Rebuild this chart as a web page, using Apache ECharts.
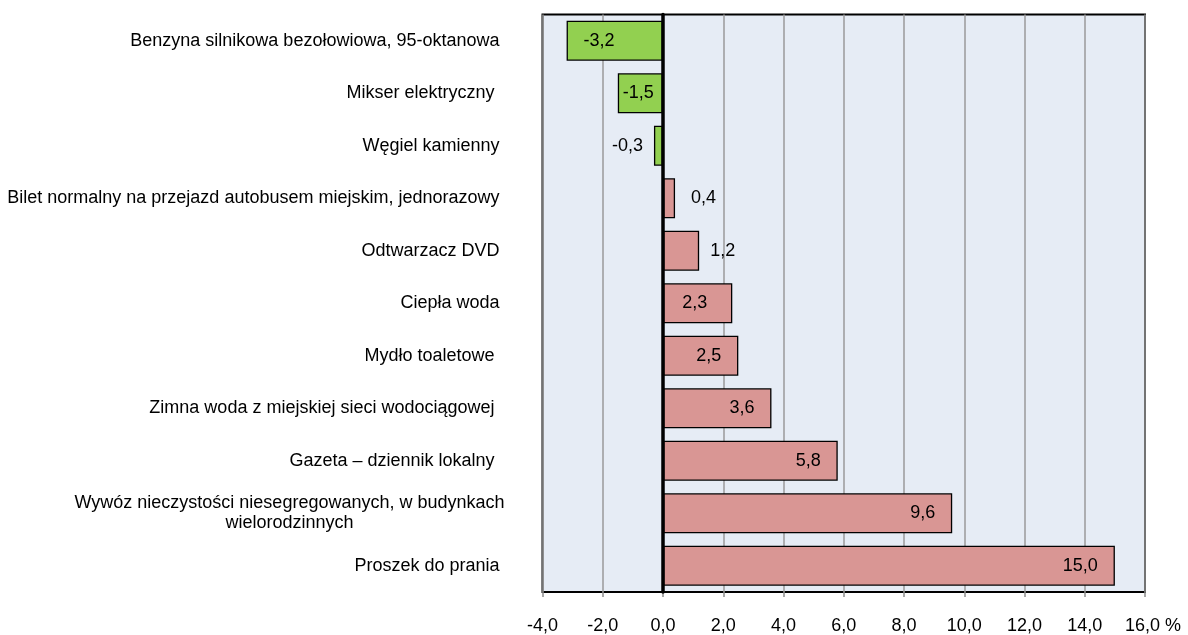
<!DOCTYPE html>
<html>
<head>
<meta charset="utf-8">
<script src="https://cdn.jsdelivr.net/npm/echarts@6/dist/echarts.min.js"></script>
<style>
html,body{margin:0;padding:0;background:#fff;}
#chart{width:1188px;height:635px;}
</style>
</head>
<body>
<div id="chart"></div>
<script>
const categories = [
  "Benzyna silnikowa bezołowiowa, 95-oktanowa",
  "Mikser elektryczny ",
  "Węgiel kamienny",
  "Bilet normalny na przejazd autobusem miejskim, jednorazowy",
  "Odtwarzacz DVD",
  "Ciepła woda",
  "Mydło toaletowe ",
  "Zimna woda z miejskiej sieci wodociągowej ",
  "Gazeta – dziennik lokalny ",
  "Wywóz nieczystości niesegregowanych, w budynkach\nwielorodzinnych",
  "Proszek do prania"
];
const values = [-3.2, -1.5, -0.3, 0.4, 1.2, 2.3, 2.5, 3.6, 5.8, 9.6, 15.0];
const xTickValues = [-4, -2, 0, 2, 4, 6, 8, 10, 12, 14, 16];
const unitLabel = "%";

const FONT = '"Liberation Sans", Arial, sans-serif';
const FS = 18;

// label placement per bar (style only)
const labelPlacement = [
  {position: 'insideLeft', distance: 17},
  {position: 'insideLeft', distance: 5},
  {position: 'left', distance: 11},
  {position: 'right', distance: 16},
  {position: 'right', distance: 11},
  {position: 'insideRight', distance: 25},
  {position: 'insideRight', distance: 17},
  {position: 'insideRight', distance: 17},
  {position: 'insideRight', distance: 17},
  {position: 'insideRight', distance: 17},
  {position: 'insideRight', distance: 17}
];

const fmt = v => v.toFixed(1).replace('.', ',');

const chart = echarts.init(document.getElementById('chart'), null, {renderer: 'canvas'});

const option = {
  animation: false,
  backgroundColor: '#ffffff',
  grid: {
    left: 542.5, right: 43, top: 14.5, bottom: 43,
    show: true,
    backgroundColor: '#E6ECF5',
    borderColor: '#000000',
    borderWidth: 2,
    containLabel: false
  },
  xAxis: {
    type: 'value',
    min: xTickValues[0],
    max: xTickValues[xTickValues.length - 1],
    interval: 2,
    position: 'bottom',
    axisLine: {show: false},
    axisTick: {show: true, length: 5, lineStyle: {color: '#8c8c8c', width: 1.5}},
    splitLine: {show: true, lineStyle: {color: '#9a9a9a', width: 1.5}},
    axisLabel: {
      margin: 25,
      color: '#000',
      fontFamily: FONT,
      fontSize: FS,
      formatter: function (v) {
        if (v === xTickValues[xTickValues.length - 1]) {
          return '{pad|}' + fmt(v) + ' ' + unitLabel;
        }
        return fmt(v);
      },
      rich: {
        pad: {width: 16}
      }
    }
  },
  yAxis: {
    type: 'category',
    inverse: true,
    data: categories,
    z: 5,
    axisLine: {show: true, onZero: true, lineStyle: {color: '#000', width: 3.5}},
    axisTick: {show: false},
    splitLine: {show: false},
    axisLabel: {
      margin: 43,
      color: '#000',
      fontFamily: FONT,
      fontSize: FS,
      lineHeight: 20,
      formatter: function (v) {
        if (v.indexOf('\n') >= 0) {
          return v.split('\n').map(s => '{c|' + s + '}').join('\n');
        }
        return v;
      },
      rich: {
        c: {width: 420, align: 'center', fontFamily: FONT, fontSize: FS, color: '#000', lineHeight: 20}
      }
    }
  },
  series: [{
    type: 'bar',
    barCategoryGap: '24%',
    data: values.map((v, i) => ({
      value: v,
      label: {
        show: true,
        position: labelPlacement[i].position,
        distance: labelPlacement[i].distance
      }
    })),
    itemStyle: {
      color: function (p) { return p.value < 0 ? '#92D050' : '#D99694'; },
      borderColor: '#000',
      borderWidth: 1.3
    },
    label: {
      show: true,
      color: '#000',
      fontFamily: FONT,
      fontSize: FS,
      formatter: function (p) { return fmt(p.value); }
    },
    z: 3
  }]
};

chart.setOption(option);
</script>
</body>
</html>
